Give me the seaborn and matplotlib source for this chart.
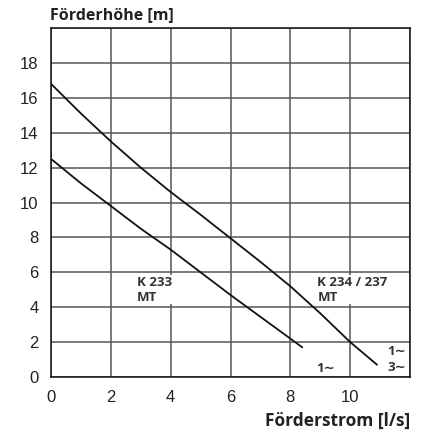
import pandas as pd
import matplotlib
matplotlib.use("Agg")
import matplotlib.pyplot as plt
import seaborn as sns

# Kennlinien
q_237 = [0, 1, 2, 3, 4, 5, 6, 7, 8, 9, 10, 10.9]
h_237 = [16.8, 15.1, 13.5, 12.0, 10.6, 9.3, 7.95, 6.6, 5.2, 3.65, 2.0, 0.7]
q_233 = [0, 1, 2, 3, 4, 5, 6, 7, 8, 8.4]
h_233 = [12.5, 11.1, 9.8, 8.5, 7.3, 6.0, 4.7, 3.45, 2.2, 1.7]

x_ticks = [0, 2, 4, 6, 8, 10]
y_ticks = [0, 2, 4, 6, 8, 10, 12, 14, 16, 18]

df = pd.concat([
    pd.DataFrame({"q": q_237, "h": h_237, "pumpe": "K 234 / 237"}),
    pd.DataFrame({"q": q_233, "h": h_233, "pumpe": "K 233"}),
])

sns.set_style("white")
plt.rcParams['font.family'] = ['Liberation Sans', 'DejaVu Sans']

fig = plt.figure(figsize=(4.23, 4.34), dpi=100)
ax = fig.add_axes([0.1206, 0.1313, 0.8487, 0.8042])

sns.lineplot(data=df, x="q", y="h", units="pumpe", estimator=None,
             color="#111111", linewidth=1.3, ax=ax, legend=False, sort=False)

ax.set_xlim(0, 12)
ax.set_ylim(0, 20)
ax.set_xticks(x_ticks + [12])
ax.set_xticklabels([str(t) for t in x_ticks] + [""])
ax.set_yticks(y_ticks + [20])
ax.set_yticklabels([str(t) for t in y_ticks] + [""])
ax.grid(True, color="#555555", linewidth=1.1)
for s in ax.spines.values():
    s.set_color("#111111")
    s.set_linewidth(1.1)
ax.tick_params(axis="both", direction="out", length=6, width=1.1,
               color="#222222", labelsize=12, labelcolor="#222222", pad=3)
ax.set_xlabel("")
ax.set_ylabel("")

bold = dict(fontsize=9.5, fontweight="bold", color="#333333", zorder=5,
            family=['Open Sans', 'DejaVu Sans'],
            bbox=dict(facecolor="white", edgecolor="none", pad=0.5))
ax.text(2.87, 5.0, "K 233\nMT", va="center", ha="left", linespacing=1.2, **bold)
ax.text(8.9, 5.0, "K 234 / 237\nMT", va="center", ha="left", linespacing=1.2, **bold)
ax.text(8.85, 0.5, "1\u223c", va="center", ha="left", **bold)
ax.text(11.25, 1.0, "1\u223c\n3\u223c", va="center", ha="left", linespacing=1.35, **bold)

fig.text(0.118, 0.965, "Förderhöhe [m]", fontsize=11.5, fontweight="bold",
         color="#222222", family=['Open Sans', 'DejaVu Sans'], va="center")
fig.text(0.969, 0.03, "Förderstrom [l/s]", fontsize=12.5, fontweight="bold",
         color="#222222", family=['Open Sans', 'DejaVu Sans'], ha="right", va="center")

fig.savefig("out.png", dpi=100)
